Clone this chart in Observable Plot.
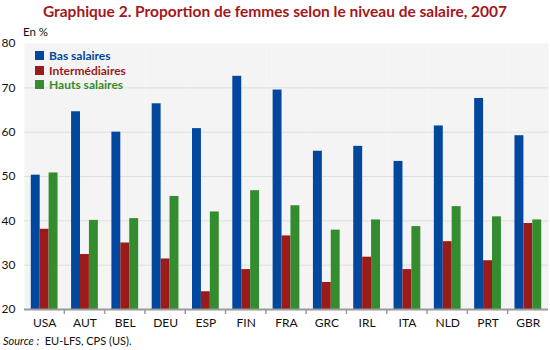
<!DOCTYPE html>
<html>
<head>
<meta charset="utf-8">
<script src="https://cdn.jsdelivr.net/npm/d3@7"></script>
<script src="https://cdn.jsdelivr.net/npm/@observablehq/plot@0.6"></script>
<style>
  html, body { margin: 0; padding: 0; background: #fff; }
  #wrap { position: relative; width: 550px; height: 350px; font-family: Lato, sans-serif; overflow: hidden; }
  #title { position: absolute; left: 0; top: 2px; width: 550px; text-align: center; font-weight: bold; font-size: 15.5px; color: #a3171c; white-space: nowrap; }
  #unit { position: absolute; left: 23px; top: 25px; font-size: 11.5px; color: #111; }
  #chart { position: absolute; left: 0; top: 30px; }
  #legend { position: absolute; left: 35px; top: 48px; }
  .li { display: flex; align-items: center; height: 14.7px; font-weight: bold; font-size: 12px; }
  .sw { width: 9px; height: 9px; margin-right: 5px; }
  #source { position: absolute; left: 3px; top: 334px; font-size: 11px; color: #111; }
</style>
</head>
<body>
<div id="wrap">
  <div id="title">Graphique 2. Proportion de femmes selon le niveau de salaire, 2007</div>
  <div id="chart"></div>
  <div id="unit">En %</div>
  <div id="legend"></div>
  <div id="source"><i>Source :</i>&nbsp; EU-LFS, CPS (US).</div>
</div>
<script>
const countries = ["USA","AUT","BEL","DEU","ESP","FIN","FRA","GRC","IRL","ITA","NLD","PRT","GBR"];
const series = ["Bas salaires", "Intermédiaires", "Hauts salaires"];
const colors = ["#00479d", "#9b1b1a", "#338c2e"];
const basSalaires   = [50.3, 64.6, 60.0, 66.4, 60.8, 72.6, 69.5, 55.7, 56.8, 53.4, 61.4, 67.6, 59.2];
const intermediaires = [38.1, 32.4, 35.0, 31.4, 24.0, 29.0, 36.6, 26.1, 31.8, 29.0, 35.3, 31.0, 39.4];
const hautsSalaires = [50.8, 40.1, 40.5, 45.5, 42.0, 46.8, 43.4, 37.9, 40.2, 38.7, 43.2, 40.9, 40.2];
const yTicks = [20, 30, 40, 50, 60, 70, 80];
const gridTicks = [30, 40, 50, 60, 70];

const valuesBySeries = [basSalaires, intermediaires, hautsSalaires];
const data = [];
countries.forEach((c, i) => {
  series.forEach((s, j) => data.push({country: c, serie: s, value: valuesBySeries[j][i]}));
});

const chart = Plot.plot({
  width: 550,
  height: 302,
  marginLeft: 24,
  marginRight: 2,
  marginTop: 13,
  marginBottom: 23,
  style: {fontFamily: "Lato, sans-serif", fontSize: "12px", color: "#111", background: "transparent"},
  fx: {domain: countries, padding: 0, round: false, axis: "bottom", label: null, tickSize: 0, tickPadding: 9},
  x: {domain: series, paddingInner: 0, paddingOuter: 0.76, round: false, axis: null},
  y: {domain: [20, 80]},
  color: {domain: series, range: colors},
  marks: [
    Plot.frame({fill: "#f4f4f4", stroke: null}),
    Plot.gridY(gridTicks, {stroke: "#dedede", strokeOpacity: 1}),
    Plot.barY(data, {fx: "country", x: "serie", y1: 20, y2: "value", fill: "serie"}),
    Plot.ruleY([20], {stroke: "#9a9a9a", strokeWidth: 2}),
    Plot.axisY(yTicks, {tickSize: 0, tickPadding: 9, label: null, line: true, stroke: "#9a9a9a", strokeWidth: 2, fill: "#111", fontSize: 12})
  ]
});
document.getElementById("chart").appendChild(chart);

// boundary ticks between categories, placed with the fx and y scales
const fx = chart.scale("fx");
const ys = chart.scale("y");
const svg = d3.select(chart.tagName === "svg" ? chart : chart.querySelector("svg"));
const y0 = ys.apply(20);
svg.append("g").selectAll("line").data(countries.slice(1)).join("line")
  .attr("x1", d => fx.apply(d)).attr("x2", d => fx.apply(d))
  .attr("y1", y0).attr("y2", y0 + 5)
  .attr("stroke", "#9a9a9a").attr("stroke-width", 1.5);

// legend
const lg = d3.select("#legend");
series.forEach((s, i) => {
  const row = lg.append("div").attr("class", "li").style("color", colors[i]);
  row.append("div").attr("class", "sw").style("background", colors[i]);
  row.append("span").text(s);
});
</script>
</body>
</html>
